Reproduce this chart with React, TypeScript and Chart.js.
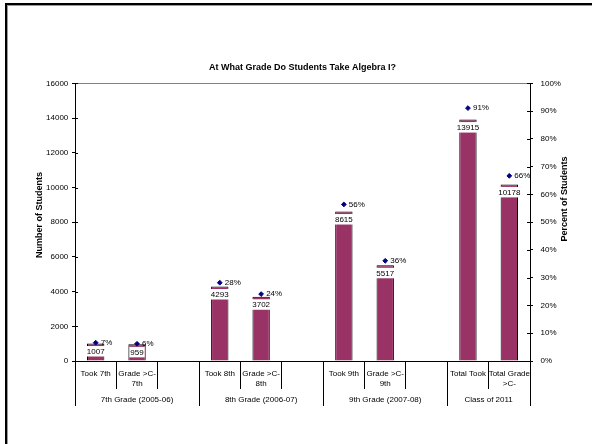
import React, { useEffect, useRef } from "react";
import { Chart, registerables } from "chart.js";

Chart.register(...registerables);

const categories: (string | string[])[] = [
  "Took 7th", ["Grade >C-", "7th"], "",
  "Took 8th", ["Grade >C-", "8th"], "",
  "Took 9th", ["Grade >C-", "9th"], "",
  "Total Took", ["Total Grade", ">C-"],
];
const students: (number | null)[] = [1007, 959, null, 4293, 3702, null, 8615, 5517, null, 13915, 10178];
const percents: (number | null)[] = [0.066, 0.062, null, 0.282, 0.241, null, 0.564, 0.361, null, 0.911, 0.667];
const percentLabels: string[] = ["7%", "6%", "", "28%", "24%", "", "56%", "36%", "", "91%", "66%"];
const groupLabels: string[] = ["7th Grade (2005-06)", "8th Grade (2006-07)", "9th Grade (2007-08)", "Class of 2011"];
const groupStarts: number[] = [0, 3, 6, 9];
const groupEnds: number[] = [3, 6, 9, 11];

const FONT = "'Liberation Sans', Arial, sans-serif";

const decor = {
  id: "decor",
  afterDatasetsDraw(chart: any) {
    const ctx = chart.ctx;
    const barMeta = chart.getDatasetMeta(0);
    ctx.save();
    ctx.font = `8px ${FONT}`;
    ctx.textAlign = "center";
    ctx.textBaseline = "middle";
    barMeta.data.forEach((bar: any, i: number) => {
      const v = students[i];
      if (v == null) return;
      const txt = String(v);
      const w = ctx.measureText(txt).width + 2;
      const top = bar.y + 2.5;
      const h = Math.min(10.5, bar.base - top);
      ctx.fillStyle = "#ffffff";
      ctx.fillRect(bar.x - w / 2, top, w, h);
      ctx.fillStyle = "#000000";
      ctx.fillText(txt, bar.x, bar.y + 8.3);
    });
    const ptMeta = chart.getDatasetMeta(1);
    ctx.textAlign = "left";
    ptMeta.data.forEach((pt: any, i: number) => {
      const t = percentLabels[i];
      if (!t || percents[i] == null) return;
      ctx.fillStyle = "#000000";
      ctx.fillText(t, pt.x + 5, pt.y);
    });
    ctx.restore();
  },
  afterDraw(chart: any) {
    const ctx = chart.ctx;
    const area = chart.chartArea;
    const xs = chart.scales.x;
    const ys = chart.scales.y;
    const ys1 = chart.scales.y1;
    ctx.save();
    // plot area top border
    ctx.strokeStyle = "#808080";
    ctx.lineWidth = 1;
    ctx.beginPath();
    ctx.moveTo(area.left, Math.round(area.top) + 0.5);
    ctx.lineTo(area.right, Math.round(area.top) + 0.5);
    ctx.stroke();
    // inner halves of the crossing tick marks
    ctx.strokeStyle = "#000000";
    ys.ticks.forEach((t: any) => {
      const y = Math.round(ys.getPixelForValue(t.value)) + 0.5;
      ctx.beginPath();
      ctx.moveTo(area.left, y);
      ctx.lineTo(area.left + 3, y);
      ctx.stroke();
    });
    ys1.ticks.forEach((t: any) => {
      const y = Math.round(ys1.getPixelForValue(t.value)) + 0.5;
      ctx.beginPath();
      ctx.moveTo(area.right - 3, y);
      ctx.lineTo(area.right, y);
      ctx.stroke();
    });
    // group separators
    const bounds = [0, 3, 6, 9, 11];
    bounds.forEach((b) => {
      const x = Math.round(xs.getPixelForValue(b - 0.5)) + 0.5;
      ctx.beginPath();
      ctx.moveTo(x, area.bottom);
      ctx.lineTo(x, area.bottom + 45);
      ctx.stroke();
    });
    // group labels
    ctx.fillStyle = "#000000";
    ctx.font = `8px ${FONT}`;
    ctx.textAlign = "center";
    ctx.textBaseline = "middle";
    groupLabels.forEach((g, i) => {
      const x0 = xs.getPixelForValue(groupStarts[i] - 0.5);
      const x1 = xs.getPixelForValue(groupEnds[i] - 0.5);
      ctx.fillText(g, (x0 + x1) / 2, area.bottom + 39);
    });
    // axis titles
    ctx.font = `bold 9px ${FONT}`;
    ctx.save();
    ctx.translate(40, 215);
    ctx.rotate(-Math.PI / 2);
    ctx.fillText("Number of Students", 0, 0);
    ctx.restore();
    ctx.save();
    ctx.translate(565, 199);
    ctx.rotate(-Math.PI / 2);
    ctx.fillText("Percent of Students", 0, 0);
    ctx.restore();
    ctx.restore();
  },
};

export default function App() {
  const ref = useRef<HTMLCanvasElement | null>(null);
  useEffect(() => {
    if (!ref.current) return;
    const chart = new Chart(ref.current, {
      type: "bar",
      data: {
        labels: categories,
        datasets: [
          {
            type: "bar",
            data: students,
            backgroundColor: "#993366",
            borderColor: "#000000",
            borderWidth: 1,
            barPercentage: 0.42,
            categoryPercentage: 1,
            yAxisID: "y",
            order: 2,
          } as any,
          {
            type: "line",
            data: percents,
            showLine: false,
            pointStyle: "rectRot",
            pointRadius: 2.4,
            pointBackgroundColor: "#000080",
            pointBorderColor: "#000080",
            borderColor: "#000080",
            backgroundColor: "#000080",
            yAxisID: "y1",
            order: 1,
          } as any,
        ],
      },
      options: {
        responsive: false,
        animation: false,
        events: [],
        layout: { padding: { left: 31, right: 18, top: 62, bottom: 53 } },
        plugins: {
          legend: { display: false },
          tooltip: { enabled: false },
          title: {
            display: true,
            text: "At What Grade Do Students Take Algebra I?",
            color: "#000000",
            font: { family: FONT, size: 9, weight: "bold" },
            padding: { top: 0, bottom: 10.6 },
          },
        },
        scales: {
          x: {
            offset: true,
            afterFit: (s: any) => { s.height = 30; },
            grid: {
              offset: true,
              drawOnChartArea: false,
              drawTicks: true,
              tickLength: 28,
              color: "#000000",
              tickColor: "#000000",
            },
            border: { display: true, color: "#000000" },
            ticks: {
              autoSkip: false,
              maxRotation: 0,
              minRotation: 0,
              padding: -20,
              color: "#000000",
              font: { family: FONT, size: 8, lineHeight: 1.25 },
            },
          },
          y: {
            position: "left",
            min: 0,
            max: 16000,
            afterFit: (s: any) => { s.width = 44; },
            grid: { drawOnChartArea: false, tickLength: 3, tickColor: "#000000" },
            border: { display: true, color: "#000000" },
            ticks: {
              stepSize: 2000,
              padding: 3.7,
              color: "#000000",
              font: { family: FONT, size: 8 },
              callback: (v: any) => String(Math.round(Number(v))),
            },
          },
          y1: {
            position: "right",
            min: 0,
            max: 1,
            afterFit: (s: any) => { s.width = 44; },
            grid: { drawOnChartArea: false, tickLength: 3, tickColor: "#000000" },
            border: { display: true, color: "#000000" },
            ticks: {
              stepSize: 0.1,
              padding: 7.5,
              color: "#000000",
              font: { family: FONT, size: 8 },
              callback: (v: any) => `${Math.round(Number(v) * 100)}%`,
            },
          },
        },
      },
      plugins: [decor],
    });
    return () => chart.destroy();
  }, []);

  return (
    <div style={{ position: "fixed", left: 0, top: 0, width: 592, height: 444, background: "#ffffff", overflow: "hidden" }}>
      <canvas ref={ref} width={592} height={444} style={{ display: "block" }} />
      <div
        style={{
          position: "absolute",
          left: 5,
          top: 3,
          width: 640,
          height: 520,
          border: "2px solid #000000",
          boxShadow: "inset 1px 1px 0 #9a9a9a",
          pointerEvents: "none",
        }}
      />
    </div>
  );
}
